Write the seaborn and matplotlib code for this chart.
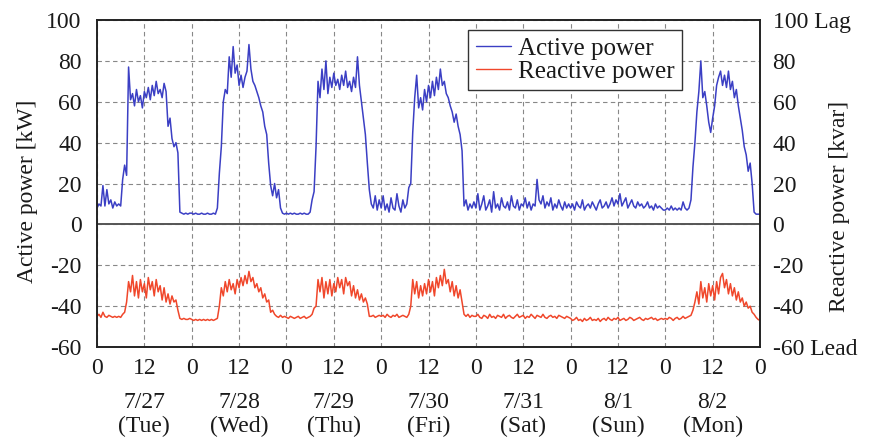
import numpy as np
import pandas as pd
import matplotlib
matplotlib.use("Agg")
import matplotlib.pyplot as plt
import seaborn as sns
from matplotlib.lines import Line2D
from matplotlib.transforms import blended_transform_factory

# ---- data: 30-minute readings per day ----
act_0727 = [8, 10, 9, 19, 9, 17, 10, 12, 8, 11, 9, 10,
            9, 22, 29, 24, 77, 61,
            64, 58, 66, 60, 63, 57, 65, 62, 67, 61, 68, 63, 70, 64, 66, 62, 69, 65,
            48, 52, 42, 38, 40, 35, 6, 5.5, 5, 5.5, 5, 5.5]
act_0728 = [5.5, 5, 5.5, 5, 5, 5.5, 5, 5, 5.5, 5, 5, 5.5, 5,
            8, 25, 38, 60, 66, 64, 82, 72, 87, 74, 78, 68, 73, 67, 72, 75, 88, 76, 70, 68,
            65, 62, 58, 55, 48, 44, 30, 19, 14, 20, 13, 17, 8, 5.5, 5]
act_0729 = [5.5, 5, 5.5, 5, 5.5, 5, 5, 5.5, 5, 5.5, 5, 5,
            6, 12, 16, 38, 70, 62, 76, 66, 80, 64, 72, 67, 74, 68, 71, 66, 73, 68, 75, 67,
            70, 65, 72, 67, 82, 68,
            60, 52, 44, 30, 17, 10, 8, 14, 7, 12]
act_0730 = [8, 14, 7, 10, 6, 13, 8, 7, 15, 9, 6, 12, 8, 10, 18,
            20, 45, 62, 73, 57, 62, 56, 66, 60, 68, 62, 70, 63, 72, 66, 76, 68, 70, 64, 62,
            58, 55, 50,
            54, 48, 44, 36, 9, 12, 7, 10, 8, 11]
act_0731 = [8, 15, 7, 10, 14, 7, 9, 12, 6, 16, 8, 10, 7, 13, 9, 8, 11, 7, 14, 9,
            8, 12, 7, 10, 9, 13, 8, 11, 7, 10, 9, 22, 12, 10, 14, 8, 11, 9, 13, 7,
            10, 8, 12, 9, 7, 11, 8, 10]
act_0801 = [8, 10, 7, 11, 9, 8, 12, 7, 9, 10, 8, 11, 9, 7, 10, 12, 8, 9, 11, 8,
            10, 13, 9, 12, 10, 15, 9, 11, 13, 8, 10, 12, 9, 8, 11, 9, 10, 8, 9, 11,
            8, 9, 7, 10, 8, 9, 8, 7]
act_0802 = [7, 8, 7, 9, 7, 8, 7, 8, 7, 11, 8, 7,
            8, 12, 28, 40, 55, 65, 80, 62, 65, 58, 50, 45, 52, 58, 68, 72, 75, 68, 73, 67,
            75, 66, 70, 62, 66, 58, 52, 46, 38, 34, 26, 30, 20, 6, 5, 5, 5]

react_0727 = [-45, -44, -45.5, -43, -45, -45.5, -44.5, -45, -45.5, -45, -45.5, -45, -45.5, -44, -43,
              -38, -28, -33, -25, -35, -28, -36, -27, -33, -29, -36, -26, -32, -28, -35, -27,
              -33, -30, -37, -31, -38, -34, -39, -35, -38, -37, -42,
              -46, -46.5, -46, -46.5, -46.5, -46]
react_0728 = [-46.5, -47, -46.5, -47, -46.5, -47, -46.5, -47, -46.5, -47, -46.5, -47, -46.5, -46,
              -40, -31, -35, -28, -33, -27, -32, -29, -34, -27, -31, -26, -30, -25, -29, -23,
              -28, -26, -31, -29, -33, -31, -36, -34, -38, -37, -43, -42, -44, -45,
              -45.5, -44.5, -45.5, -45]
react_0729 = [-45.5, -46, -45, -45.5, -46, -45.5, -45, -46, -45.5, -45, -46, -45.5, -45,
              -44, -41, -40, -27, -33, -26, -36, -28, -34, -27, -35, -29, -33, -26, -31, -27,
              -34, -26, -30, -28, -35, -30, -36, -32, -37, -34, -38, -36, -39, -45,
              -45, -44.5, -45.5, -45, -44.5]
react_0730 = [-45, -44.5, -45.5, -44, -45, -45.5, -44.5, -45, -44, -45.5, -45, -44.5, -45, -45.5, -44,
              -40, -27, -34, -28, -36, -30, -35, -29, -34, -27, -33, -28, -35, -26, -31, -25,
              -30, -22, -29, -27, -33, -28, -35, -30, -36, -32, -38, -44, -45, -44,
              -45.5, -44.5, -45]
react_0731 = [-45, -44, -45.5, -46, -44.5, -45, -46, -44, -45.5, -45, -46, -44.5, -45, -45.5,
              -44, -46, -45, -44.5, -45.5, -46, -45, -44, -45.5, -45, -44.5, -46, -45, -45.5,
              -44, -45, -46, -44.5, -45, -45.5, -44, -45.5, -46, -45, -44.5, -45.5, -45, -46,
              -44.5, -45, -45.5, -46, -45, -45.5]
react_0801 = [-46, -47, -46.5, -45.5, -47, -46.5, -47.5, -46, -47, -46.5, -45.5, -47, -46.5, -47,
              -46, -47.5, -46.5, -46, -47, -45.5, -46.5, -47, -46, -46.5, -45.5, -47, -46.5, -46,
              -47, -46.5, -45.5, -46, -47, -46.5, -46, -45.5, -46.5, -47, -46, -46.5, -46, -45.5,
              -46.5, -46, -47, -46.5, -46, -46.5]
react_0802 = [-46, -46.5, -45.5, -46, -47, -46, -45.5, -46.5, -46, -45, -46, -45.5, -45, -44.5,
              -42, -38, -33, -39, -28, -36, -31, -38, -29, -35, -30, -37, -28, -34, -26, -24,
              -31, -27, -34, -29, -35, -31, -37, -33, -38, -36, -40, -38, -41, -40,
              -43, -44, -45.5, -46.5, -47]

day_labels = ["7/27\n(Tue)", "7/28\n(Wed)", "7/29\n(Thu)", "7/30\n(Fri)",
              "7/31\n(Sat)", "8/1\n(Sun)", "8/2\n(Mon)"]
x_ticks = list(range(0, 169, 12))
x_tick_labels = ["0", "12"] * 7 + ["0"]
y_ticks = [-60, -40, -20, 0, 20, 40, 60, 80, 100]
left_tick_labels = ["-60", "-40", "-20", "0", "20", "40", "60", "80", "100"]
right_tick_labels = ["-60 Lead", "-40", "-20", "0", "20", "40", "60", "80", "100 Lag"]
series_names = ["Active power", "Reactive power"]

active = np.concatenate([act_0727, act_0728, act_0729, act_0730, act_0731, act_0801, act_0802])
reactive = np.concatenate([react_0727, react_0728, react_0729, react_0730, react_0731,
                           react_0801, react_0802])
df = pd.DataFrame({"hour": np.arange(len(active)) * 0.5,
                   "active": active, "reactive": reactive})

BLUE = "#3b3fc4"
RED = "#f0472b"

sns.set_theme(style="white")
plt.rcParams["font.family"] = ["Liberation Serif", "DejaVu Serif"]
plt.rcParams["axes.edgecolor"] = "#222222"
plt.rcParams["text.color"] = "#1a1a1a"
plt.rcParams["xtick.color"] = "#1a1a1a"
plt.rcParams["ytick.color"] = "#1a1a1a"

fig = plt.figure(figsize=(8.7, 4.43), dpi=100)
ax = fig.add_axes([0.1115, 0.2167, 0.7621, 0.7381])

ax.grid(True, linestyle=(0, (4, 3)), color="#888888", linewidth=0.8)
ax.axhline(0, color="#555555", linewidth=1.4, zorder=1.5)

sns.lineplot(data=df, x="hour", y="active", ax=ax, color=BLUE, linewidth=1.1,
             estimator=None, legend=False)
sns.lineplot(data=df, x="hour", y="reactive", ax=ax, color=RED, linewidth=1.1,
             estimator=None, legend=False)

ax.set_xlim(0, 168)
ax.set_ylim(-60, 100)
ax.set_xticks(x_ticks)
ax.set_xticklabels(x_tick_labels)
ax.set_yticks(y_ticks)
ax.set_yticklabels(left_tick_labels)
ax.tick_params(axis="x", length=0, pad=8, labelsize=17)
ax.tick_params(axis="y", length=0, pad=11, labelsize=17)
ax.set_xlabel("")
ax.set_ylabel("")
for s in ax.spines.values():
    s.set_linewidth(1.2)
    s.set_color("#222222")

ax2 = ax.twinx()
ax2.set_ylim(-60, 100)
ax2.set_yticks(y_ticks)
ax2.set_yticklabels(right_tick_labels)
ax2.tick_params(axis="y", length=0, pad=9, labelsize=17)
ax2.grid(False)
for s in ax2.spines.values():
    s.set_linewidth(1.2)
    s.set_color("#222222")

trans = blended_transform_factory(ax.transData, ax.transAxes)
for i, lab in enumerate(day_labels):
    ax.text(12 + 24 * i, -0.207, lab, transform=trans, ha="center", va="center",
            fontsize=17, linespacing=1.2)

fig.text(28 / 870, 0.569, "Active power [kW]", rotation=90, ha="center", va="center",
         fontsize=17)
fig.text(840 / 870, 0.535, "Reactive power [kvar]", rotation=90, ha="center", va="center",
         fontsize=17)

handles = [Line2D([], [], color=BLUE, lw=1.0), Line2D([], [], color=RED, lw=1.0)]
leg = ax.legend(handles, series_names, loc="upper left", bbox_to_anchor=(0.560, 0.969),
                borderaxespad=0, fontsize=18, frameon=True, fancybox=False,
                framealpha=1, edgecolor="#333333", handlelength=1.4,
                handletextpad=0.3, labelspacing=0.0, borderpad=0.3)
leg.get_frame().set_linewidth(1.0)

fig.savefig("out.png", dpi=100)
